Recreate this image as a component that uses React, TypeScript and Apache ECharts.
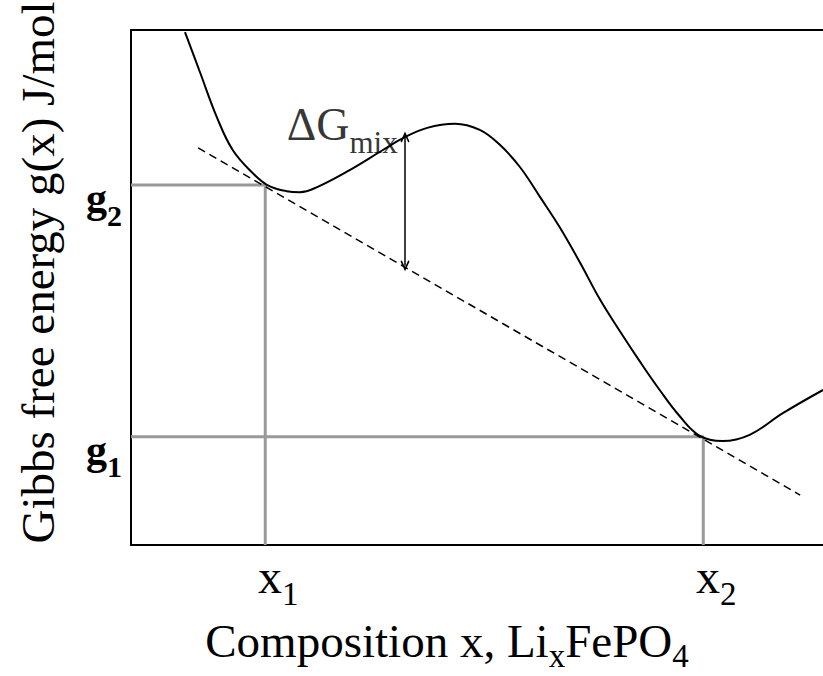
import React, { useEffect, useRef } from 'react';
import * as echarts from 'echarts';

const FONT = "'Liberation Serif', 'Times New Roman', serif";

// Gibbs free energy curve g(x) (x: composition, y: normalised energy)
const compX = [0.078, 0.0997, 0.124, 0.147, 0.176, 0.197, 0.225, 0.244, 0.269, 0.316, 0.364, 0.393, 0.428, 0.468, 0.504, 0.533, 0.562, 0.591, 0.62, 0.649, 0.678, 0.707, 0.736, 0.764, 0.793, 0.822, 0.855, 0.894, 0.942, 1.0];
const gibbsG = [0.996, 0.918, 0.831, 0.767, 0.722, 0.699, 0.687, 0.685, 0.695, 0.728, 0.767, 0.79, 0.81, 0.818, 0.806, 0.777, 0.734, 0.676, 0.616, 0.548, 0.476, 0.414, 0.355, 0.301, 0.25, 0.212, 0.202, 0.214, 0.256, 0.301];

// common tangent (dashed)
const tangentX = [0.097, 0.967];
const tangentG = [0.771, 0.097];

// tangent points
const x1 = 0.194;
const x2 = 0.827;
const g1 = 0.21;
const g2 = 0.699;

const xTickValues = [x1, x2];
const xTickSubs = ['1', '2'];
const yTickValues = [g1, g2];
const yTickSubs = ['1', '2'];

// ΔG_mix arrow
const arrowX = 0.396;
const arrowTop = 0.792;
const arrowBottom = 0.542;
const dGLabelAt = [0.225, 0.751];

const nearestIndex = (arr: number[], v: number) => {
  let best = 0;
  for (let i = 1; i < arr.length; i++) if (Math.abs(arr[i] - v) < Math.abs(arr[best] - v)) best = i;
  return best;
};

export default function App() {
  const ref = useRef<HTMLDivElement>(null);
  useEffect(() => {
    const chart = echarts.init(ref.current!, null, { renderer: 'svg' });
    const black = { color: '#000', width: 2 };
    const option: any = {
      animation: false,
      textStyle: { fontFamily: FONT, color: '#000' },
      grid: { left: 131, top: 30, right: 0, bottom: 131, containLabel: false, outerBoundsMode: 'none' },
      xAxis: [
        {
          type: 'value', min: 0, max: 1, position: 'bottom',
          axisLine: { show: true, onZero: false, lineStyle: black },
          axisTick: { show: false },
          splitLine: { show: false },
          axisLabel: {
            customValues: xTickValues,
            align: 'center',
            margin: -2,
            padding: [0, 0, 0, 26],
            formatter: (v: number) => '{m|x}{s|' + xTickSubs[nearestIndex(xTickValues, v)] + '}',
            rich: {
              m: { fontFamily: FONT, fontSize: 48, lineHeight: 48, color: '#000' },
              s: { fontFamily: FONT, fontSize: 33, padding: [34, 0, 0, 0], color: '#000' },
            },
          },
          name: '{m|Composition x, Li}{s|x}{m|FePO}{s|4}',
          nameLocation: 'middle',
          nameGap: 64,
          nameTextStyle: {
            padding: [0, 60, 0, 0],
            rich: {
              m: { fontFamily: FONT, fontSize: 47, lineHeight: 47, color: '#000' },
              s: { fontFamily: FONT, fontSize: 33, padding: [30, 0, 0, 0], color: '#000' },
            },
          },
        },
        {
          type: 'value', min: 0, max: 1, position: 'top',
          axisLine: { show: true, onZero: false, lineStyle: black },
          axisTick: { show: false },
          axisLabel: { show: false },
          splitLine: { show: false },
        },
      ],
      yAxis: {
        type: 'value', min: 0, max: 1,
        axisLine: { show: true, onZero: false, lineStyle: black },
        axisTick: { show: false },
        splitLine: { show: false },
        axisLabel: {
          customValues: yTickValues,
          margin: 9,
          padding: [26, 0, 0, 0],
          formatter: (v: number) => '{g|g}{s|' + yTickSubs[nearestIndex(yTickValues, v)] + '}',
          rich: {
            g: { fontFamily: FONT, fontSize: 42, fontWeight: 'bold', lineHeight: 42, color: '#000' },
            s: { fontFamily: FONT, fontSize: 30, fontWeight: 'bold', padding: [34, 0, 0, 0], color: '#000' },
          },
        },
        name: 'Gibbs free energy g(x) J/mol',
        nameLocation: 'middle',
        nameRotate: 90,
        nameGap: 70,
        nameTextStyle: { fontFamily: FONT, fontSize: 47, color: '#000', padding: [0, 0, 0, 30] },
      },
      series: [
        {
          type: 'line',
          name: 'reference lines g2',
          data: [[0, g2], [x1, g2], [x1, 0]],
          symbol: 'none',
          lineStyle: { color: '#999', width: 3 },
          silent: true,
          z: 1,
        },
        {
          type: 'line',
          name: 'reference lines g1',
          data: [[0, g1], [x2, g1], [x2, 0]],
          symbol: 'none',
          lineStyle: { color: '#999', width: 3 },
          silent: true,
          z: 1,
        },
        {
          type: 'line',
          name: 'tangent',
          data: tangentX.map((x, i) => [x, tangentG[i]]),
          symbol: 'none',
          lineStyle: { color: '#000', width: 1.5, type: [8, 5] },
          silent: true,
          z: 2,
        },
        {
          type: 'line',
          name: 'g(x)',
          data: compX.map((x, i) => [x, gibbsG[i]]),
          symbol: 'none',
          smooth: 0.4,
          lineStyle: { color: '#000', width: 2 },
          silent: true,
          z: 3,
          markLine: {
            silent: true,
            symbol: ['path://M5,0 L10,9 L8.6,10 L5,3.6 L1.4,10 L0,9 Z', 'path://M5,0 L10,9 L8.6,10 L5,3.6 L1.4,10 L0,9 Z'],
            symbolSize: [9, 11],
            label: { show: false },
            lineStyle: { color: '#000', width: 1.5, type: 'solid' },
            data: [[{ coord: [arrowX, arrowTop] }, { coord: [arrowX, arrowBottom] }]],
          },
        },
        {
          type: 'scatter',
          name: 'dG label',
          data: [dGLabelAt],
          symbolSize: 0,
          itemStyle: { color: 'transparent' },
          silent: true,
          label: {
            show: true,
            position: [0, 0],
            align: 'left',
            verticalAlign: 'bottom',
            formatter: '{a|ΔG}{s|mix}',
            rich: {
              a: { fontFamily: FONT, fontSize: 46, lineHeight: 46, color: '#000' },
              s: { fontFamily: FONT, fontSize: 31, padding: [36, 0, 0, 0], color: '#000' },
            },
          },
        },
      ],
    };
    chart.setOption(option);
    return () => chart.dispose();
  }, []);
  return <div ref={ref} style={{ position: 'absolute', left: 0, top: 0, width: 823, height: 676 }} />;
}
